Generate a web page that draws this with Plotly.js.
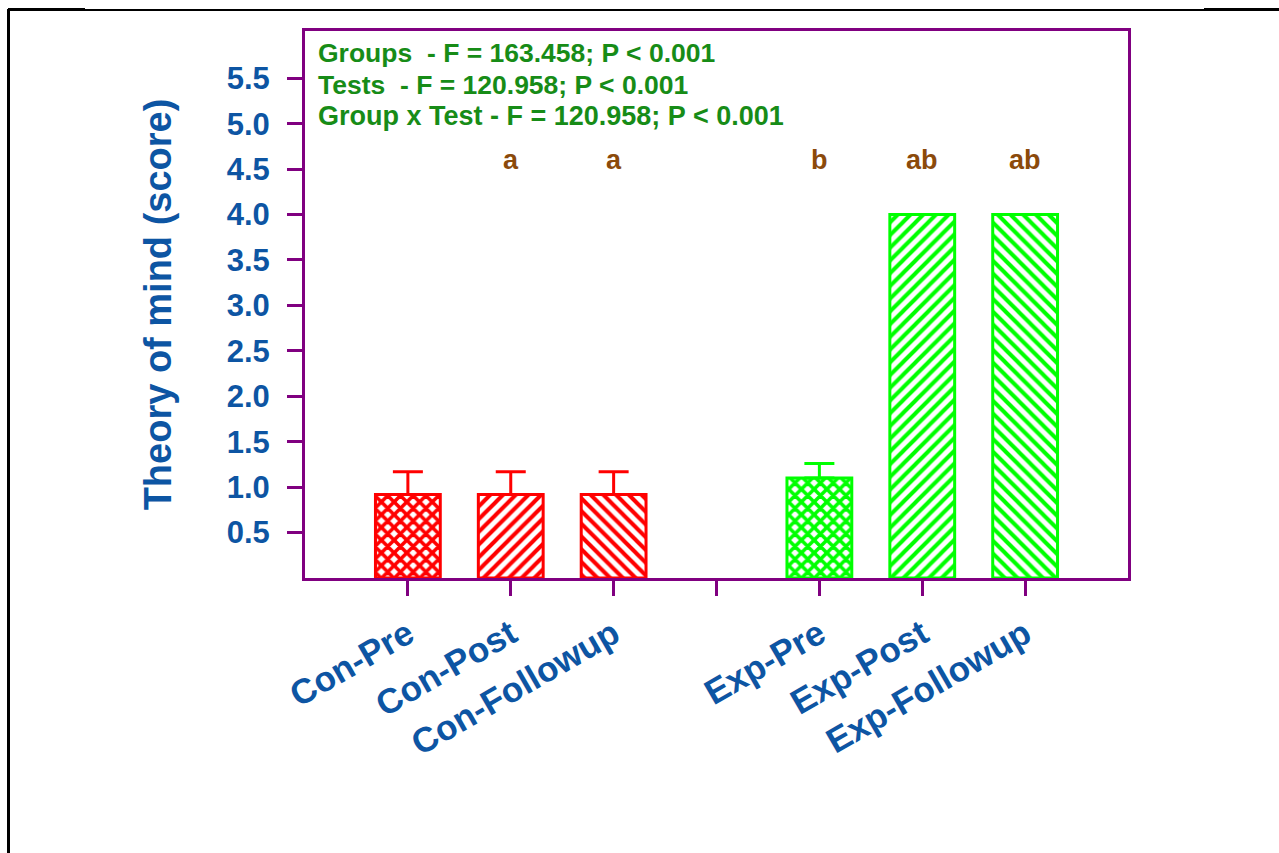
<!DOCTYPE html>
<html>
<head>
<meta charset="utf-8">
<script src="https://cdn.plot.ly/plotly-3.0.1.min.js"></script>
<style>
  html, body { margin: 0; padding: 0; background: #ffffff; }
  #wrap { position: relative; width: 1279px; height: 853px; }
  #chart { position: absolute; left: 0; top: 0; width: 1279px; height: 853px; }
  .rule { position: absolute; background: #000000; pointer-events: none; }
</style>
</head>
<body>
<div id="wrap">
  <div id="chart"></div>
  <!-- page frame: top rule and left rule -->
  <div class="rule" style="left:8px; top:9px; width:1271px; height:2px;"></div>
  <div class="rule" style="left:8px; top:8px; width:77px; height:3px;"></div>
  <div class="rule" style="left:1204px; top:8px; width:75px; height:3px;"></div>
  <div class="rule" style="left:7px; top:9px; width:3px; height:844px;"></div>
</div>
<script>
// Theory of mind scores (mean, upper SEM) for control and experimental groups
const conLabels = ['Con-Pre', 'Con-Post', 'Con-Followup'];
const expLabels = ['Exp-Pre', 'Exp-Post', 'Exp-Followup'];
const conPos = [0, 1, 2];
const expPos = [4, 5, 6];
const conMeans = [0.92, 0.92, 0.92];
const conErr = [0.25, 0.25, 0.25];
const expMeans = [1.10, 4.0, 4.0];
const expErr = [0.16, 0, 0];
const patterns = ['x', '/', '\\'];

// significance letters above the bars
const letterPos = [1, 2, 4, 5, 6];
const letters = ['a', 'a', 'b', 'ab', 'ab'];
const letterLevel = 4.6;

// two-way ANOVA summary lines
const statLines = [
  'Groups  - F = 163.458; P < 0.001',
  'Tests  - F = 120.958; P < 0.001',
  'Group x Test - F = 120.958; P < 0.001'
];

const yTicks = [0.5, 1.0, 1.5, 2.0, 2.5, 3.0, 3.5, 4.0, 4.5, 5.0, 5.5];
const xTickPos = [0, 1, 2, 3, 4, 5, 6];
const xTickText = conLabels.concat([''], expLabels);

const PURPLE = '#800080';
const BLUE = '#0d55a3';
const FONT = 'Liberation Sans, Arial, sans-serif';

function barTrace(pos, means, err, color) {
  return {
    type: 'bar',
    x: pos,
    y: means,
    width: 0.63,
    marker: {
      color: color,
      line: { color: color, width: 3 },
      pattern: { shape: patterns, fillmode: 'replace', fgcolor: color, bgcolor: '#ffffff', size: 9,
                 solidity: [0.64, 0.45, 0.45] }
    },
    error_y: {
      type: 'data', symmetric: false, array: err, arrayminus: err.map(() => 0),
      color: color, thickness: 3, width: 15
    },
    showlegend: false,
    hoverinfo: 'skip'
  };
}

const traces = [
  barTrace(conPos, conMeans, conErr, '#ff0000'),
  barTrace(expPos, expMeans, expErr, '#00ff00')
];

const annotations = letters.map((t, i) => ({
  x: letterPos[i], y: letterLevel, xref: 'x', yref: 'y',
  text: t, showarrow: false,
  font: { family: FONT, size: 27, color: '#8b4a0b', weight: 'bold' }
}));

const statY = [0.96, 0.902, 0.845];
statLines.forEach((t, i) => {
  annotations.push({
    x: 0.013, y: statY[i], xref: 'paper', yref: 'paper',
    xanchor: 'left', yanchor: 'middle', text: t, showarrow: false,
    font: { family: FONT, size: i === 2 ? 27 : 26.5, color: '#178c17', weight: 'bold' }
  });
});

const layout = {
  width: 1279,
  height: 853,
  margin: { l: 305, r: 151, t: 31, b: 275 },
  paper_bgcolor: 'rgba(0,0,0,0)',
  plot_bgcolor: '#ffffff',
  xaxis: {
    range: [-1, 7],
    tickmode: 'array', tickvals: xTickPos, ticktext: xTickText,
    tickangle: -30,
    ticks: 'outside', ticklen: 15, tickwidth: 3, tickcolor: PURPLE,
    ticklabelstandoff: 4,
    showline: true, mirror: true, linecolor: PURPLE, linewidth: 3,
    showgrid: false, zeroline: false,
    tickfont: { family: FONT, size: 35, color: BLUE, weight: 'bold' }
  },
  yaxis: {
    range: [0, 6.02],
    tickmode: 'array', tickvals: yTicks, ticktext: yTicks.map(v => v.toFixed(1)),
    ticks: 'outside', ticklen: 15, tickwidth: 3, tickcolor: PURPLE,
    ticklabelstandoff: 11,
    showline: true, mirror: true, linecolor: PURPLE, linewidth: 3,
    showgrid: false, zeroline: false,
    tickfont: { family: FONT, size: 31, color: BLUE, weight: 'bold' },
    title: { text: 'Theory of mind (score)', standoff: 44,
             font: { family: FONT, size: 38, color: BLUE, weight: 'bold' } }
  },
  annotations: annotations
};

Plotly.newPlot('chart', traces, layout, { displayModeBar: false, staticPlot: true });
</script>
</body>
</html>
